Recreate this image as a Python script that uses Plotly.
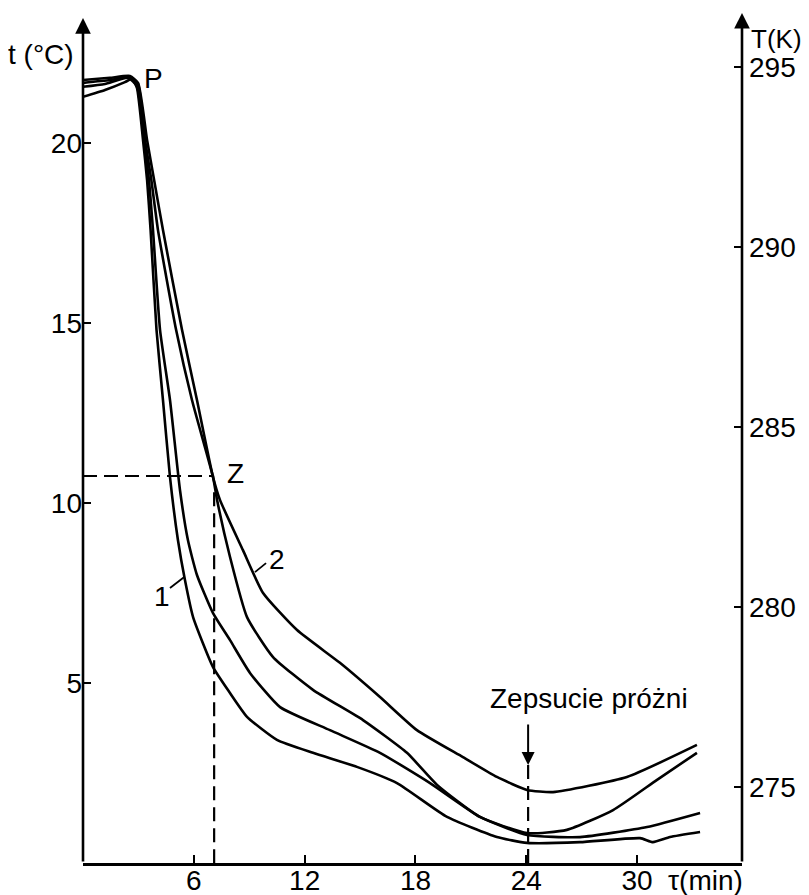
import plotly.graph_objects as go

# ---- data ----
tau_A = [0, 1.19, 2.27, 2.65, 2.92, 3.25, 3.47, 3.66, 3.98, 4.33, 4.71, 5.14, 5.52, 5.96, 7.04, 7.96, 8.88, 10.50, 12.45, 14.83, 17.00, 19.71, 22.41, 24.04, 26.91, 30.16, 30.86, 31.78, 33.41]
t_A = [21.28, 21.47, 21.69, 21.78, 21.53, 20.08, 18.97, 17.58, 14.81, 12.86, 10.72, 8.97, 7.86, 6.83, 5.44, 4.72, 4.06, 3.42, 3.06, 2.67, 2.22, 1.28, 0.72, 0.56, 0.58, 0.69, 0.58, 0.72, 0.86]

tau_B = [0, 1.19, 2.44, 2.92, 3.30, 3.57, 3.79, 4.17, 4.71, 5.25, 5.68, 6.17, 7.04, 7.96, 9.04, 10.67, 13.37, 16.08, 18.79, 21.49, 24.04, 26.91, 30.54, 33.41]
t_B = [21.56, 21.64, 21.81, 21.58, 20.08, 18.97, 17.58, 14.81, 12.86, 10.36, 8.97, 8.00, 6.94, 6.19, 5.28, 4.33, 3.69, 3.06, 2.22, 1.28, 0.78, 0.72, 1.00, 1.39]

tau_C = [0, 1.46, 2.54, 2.98, 3.36, 3.70, 4.06, 5.04, 5.90, 7.04, 7.26, 7.96, 8.88, 10.29, 12.45, 15.16, 17.54, 19.17, 21.49, 24.04, 26.20, 28.70, 31.08, 33.24]
t_C = [21.67, 21.75, 21.83, 21.64, 20.08, 18.97, 17.58, 14.81, 12.86, 10.72, 10.08, 8.50, 6.83, 5.72, 4.81, 3.97, 3.06, 2.17, 1.28, 0.83, 0.92, 1.47, 2.31, 3.06]

tau_D = [0, 1.46, 2.54, 2.98, 3.47, 3.85, 4.33, 5.36, 6.17, 7.04, 7.42, 8.66, 9.75, 11.59, 13.91, 16.08, 18.08, 20.57, 22.41, 24.04, 25.45, 29.45, 33.24]
t_D = [21.75, 21.81, 21.86, 21.67, 20.08, 18.97, 17.58, 14.81, 12.86, 10.72, 10.08, 8.69, 7.50, 6.47, 5.56, 4.61, 3.69, 2.94, 2.39, 2.03, 1.97, 2.39, 3.28]

curves = [(tau_A, t_A), (tau_B, t_B), (tau_C, t_C), (tau_D, t_D)]

x_ticks = [6, 12, 18, 24, 30]
y_ticks_C = [5, 10, 15, 20]
y_ticks_K = [275, 280, 285, 290, 295]

K_OFFSET = 272.9          # T(K) scale offset as drawn on the right axis
TAU_MAX = 35.68
T_TOP_LEFT = 23.47
T_TOP_RIGHT = 23.61

# marked points
tau_Z, t_Z = 7.1, 10.75
tau_break = 24.1
t_break_arrow_tip = 2.72
t_break_arrow_tail = 3.89

FONT = "Liberation Sans, Arial, sans-serif"
FS = 28

fig = go.Figure()

for tx, ty in curves:
    fig.add_trace(go.Scatter(x=tx, y=ty, mode="lines",
                             line=dict(color="black", width=2.6, shape="spline", smoothing=0.5),
                             hoverinfo="skip", showlegend=False))

dash = dict(color="black", width=2.2, dash="14px,7px")
fig.add_trace(go.Scatter(x=[0, tau_Z], y=[t_Z, t_Z], mode="lines", line=dash, showlegend=False, hoverinfo="skip"))
fig.add_trace(go.Scatter(x=[tau_Z, tau_Z], y=[t_Z - 0.45, 0], mode="lines", line=dash, showlegend=False, hoverinfo="skip"))
fig.add_trace(go.Scatter(x=[tau_break, tau_break], y=[t_break_arrow_tip, 0], mode="lines", line=dash, showlegend=False, hoverinfo="skip"))

fig.add_trace(go.Scatter(x=[None], y=[None], yaxis="y2", showlegend=False, hoverinfo="skip"))

ann = []
def txt(x, y, s, ref="data", size=FS):
    d = dict(x=x, y=y, text=s, showarrow=False, xanchor="center", yanchor="middle",
             font=dict(family=FONT, size=size, color="black"))
    if ref == "paper":
        d.update(xref="paper", yref="paper")
    else:
        d.update(xref="x", yref="y")
    ann.append(d)

txt(3.79, 21.8, "P")
txt(8.23, 10.83, "Z")
txt(4.28, 7.39, "1")
txt(10.5, 8.42, "2")
txt(27.4, 4.58, "Zepsucie próżni")
# axis titles sit outside the plotting area -> paper coordinates
txt(-0.064, 0.951, "t (°C)", ref="paper")
txt(1.052, 0.969, "T(K)", ref="paper", size=26)
txt(0.945, -0.02, "τ(min)", ref="paper")

ann.append(dict(x=tau_break, y=t_break_arrow_tip, ax=tau_break, ay=t_break_arrow_tail,
                xref="x", yref="y", axref="x", ayref="y", showarrow=True,
                arrowhead=2, arrowsize=1.3, arrowwidth=2, arrowcolor="black", text=""))
ann.append(dict(x=0, y=T_TOP_LEFT, ax=0, ay=0, xref="x", yref="y", axref="x", ayref="y",
                showarrow=True, arrowhead=2, arrowsize=1.2, arrowwidth=2.6, arrowcolor="black", text=""))
ann.append(dict(x=TAU_MAX, y=T_TOP_RIGHT, ax=TAU_MAX, ay=0, xref="x", yref="y", axref="x", ayref="y",
                showarrow=True, arrowhead=2, arrowsize=1.2, arrowwidth=2.6, arrowcolor="black", text=""))

shapes = [
    dict(type="line", x0=4.71, y0=7.64, x1=5.50, y1=7.95, xref="x", yref="y", line=dict(color="black", width=1.8)),
    dict(type="line", x0=9.31, y0=8.08, x1=9.91, y1=8.33, xref="x", yref="y", line=dict(color="black", width=1.8)),
]

# the page body has an 8px margin, so the figure is drawn 8px in from the top-left corner
fig.update_layout(
    width=801, height=887,
    margin=dict(l=75, r=67, t=5, b=32, autoexpand=False),
    paper_bgcolor="white", plot_bgcolor="white",
    font=dict(family=FONT, size=FS, color="black"),
    showlegend=False,
    annotations=ann, shapes=shapes,
    xaxis=dict(range=[0, TAU_MAX], tickvals=x_ticks, ticktext=[str(v) for v in x_ticks],
               showgrid=False, zeroline=False, showline=True, linewidth=2.6, linecolor="black",
               ticks="inside", ticklen=8, tickwidth=2, tickcolor="black", automargin=False,
               ticklabelstandoff=-9, tickfont=dict(family=FONT, size=FS)),
    yaxis=dict(range=[0, T_TOP_RIGHT], tickvals=y_ticks_C, ticktext=[str(v) for v in y_ticks_C],
               showgrid=False, zeroline=False, showline=False, automargin=False,
               ticks="inside", ticklen=8, tickwidth=2, tickcolor="black", ticklabelstandoff=0,
               tickfont=dict(family=FONT, size=FS)),
    yaxis2=dict(range=[K_OFFSET, K_OFFSET + T_TOP_RIGHT], overlaying="y", side="right",
                tickvals=y_ticks_K, ticktext=[str(v) for v in y_ticks_K], automargin=False,
                showgrid=False, zeroline=False, showline=False,
                ticks="inside", ticklen=8, tickwidth=2, tickcolor="black", ticklabelstandoff=6,
                tickfont=dict(family=FONT, size=FS)),
)

fig.write_html("out.html")
